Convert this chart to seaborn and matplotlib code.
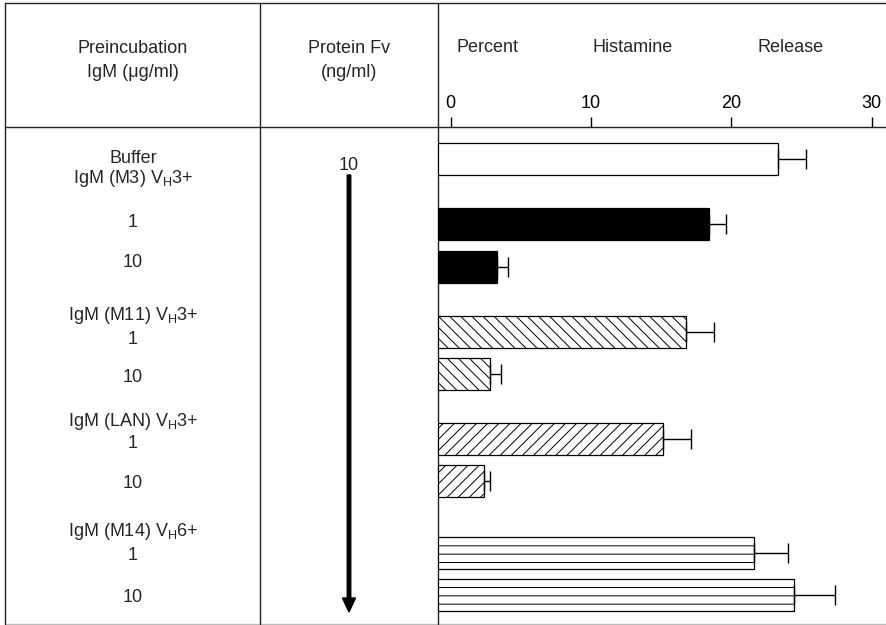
import numpy as np
import pandas as pd
import matplotlib
matplotlib.use("Agg")
import matplotlib.pyplot as plt
import seaborn as sns

# ---- data -------------------------------------------------------------
conditions = ["Buffer", "M3 1", "M3 10", "M11 1", "M11 10",
              "LAN 1", "LAN 10", "M14 1", "M14 10"]
release = [23.3, 18.4, 3.3, 16.75, 2.8, 15.1, 2.4, 21.6, 24.5]      # % histamine release
release_err = [2.0, 1.2, 0.8, 2.05, 0.75, 2.05, 0.4, 2.45, 2.9]

buffer_label = "Buffer"
igm_headers = [r"IgM (M3) V$_\mathregular{H}$3+",
               r"IgM (M11) V$_\mathregular{H}$3+",
               r"IgM (LAN) V$_\mathregular{H}$3+",
               r"IgM (M14) V$_\mathregular{H}$6+"]
igm_doses = ["1", "10"]
fv_dose = "10"
col_titles = ["Preincubation\nIgM (μg/ml)", "Protein Fv\n(ng/ml)"]
axis_words = ["Percent", "Histamine", "Release"]
axis_ticks = [0, 10, 20, 30]

# ---- layout (figure pixels, origin top-left) --------------------------
W, H = 887, 625
row_pos = [0, 1.534, 2.539, 4.076, 5.076, 6.62, 7.61, 9.31, 10.30]
bar_face = ["white", "black", "black", "white", "white",
            "white", "white", "white", "white"]
bar_hatch = ["", "", "", "\\" * 3, "\\" * 3, "/" * 3, "/" * 3, "--", "--"]

sns.set_style("white")
plt.rcParams["font.family"] = ["Liberation Sans", "DejaVu Sans"]
plt.rcParams["mathtext.fontset"] = "custom"
plt.rcParams["mathtext.rm"] = "Liberation Sans"
plt.rcParams["hatch.linewidth"] = 0.7
FS = 13

fig = plt.figure(figsize=(W / 100, H / 100), dpi=100)

# table frame and text in pixel coordinates
bg = fig.add_axes([0, 0, 1, 1])
bg.set_xlim(0, W)
bg.set_ylim(H, 0)
bg.axis("off")

lc = "#222222"
bg.plot([5.5, W], [3.3, 3.3], color=lc, lw=1.0)
bg.plot([5.5, W], [127.3, 127.3], color=lc, lw=1.0)
bg.plot([5.5, W], [623.5, 623.5], color="#bbbbbb", lw=1.0)
for xv in (5.5, 260, 438.3):
    bg.plot([xv, xv], [3.3, 623.5], color=lc, lw=1.0)

col1_x, col2_x = 133, 349
for title, xc in zip(col_titles, (col1_x, col2_x)):
    top, bottom = title.split("\n")
    bg.text(xc, 53.3, top, ha="center", va="baseline", fontsize=FS)
    bg.text(xc, 76.7, bottom, ha="center", va="baseline", fontsize=FS)

for word, xc in zip(axis_words, [488, 633, 791]):
    bg.text(xc, 51.5, word, ha="center", va="baseline", fontsize=FS)

bg.text(col1_x, 163.3, buffer_label, ha="center", va="baseline", fontsize=FS)
header_base = [182.7, 319.6, 426.3, 536.3]
dose_base = [(226.7, 266.7), (344.0, 381.7), (448.0, 488.0), (560.0, 601.7)]
for hdr, hb, (d1, d2) in zip(igm_headers, header_base, dose_base):
    bg.text(col1_x, hb, hdr, ha="center", va="baseline", fontsize=FS)
    bg.text(col1_x, d1, igm_doses[0], ha="center", va="baseline", fontsize=FS)
    bg.text(col1_x, d2, igm_doses[1], ha="center", va="baseline", fontsize=FS)

bg.text(col2_x, 170, fv_dose, ha="center", va="baseline", fontsize=FS)
bg.arrow(col2_x, 175, 0, 612 - 175, width=3.5, head_width=13, head_length=14,
         length_includes_head=True, color="black")

# bar panel
px0, px_per = 450.7, 14.03          # pixel of 0 %, pixels per 1 %
row_px0, row_unit = 159.3, 42.3
x_lo, x_hi = (438.3 - px0) / px_per, (W - px0) / px_per
y_top, y_bot = (127.3 - row_px0) / row_unit, (623.5 - row_px0) / row_unit

ax = fig.add_axes([438.3 / W, 1 - 623.5 / H, (W - 438.3) / W, (623.5 - 127.3) / H])
df = pd.DataFrame({"condition": conditions, "release": release, "row": row_pos})
sns.barplot(data=df, x="release", y="row", orient="y", native_scale=True,
            width=0.77, color="white", edgecolor="black", linewidth=0.9,
            errorbar=None, ax=ax)

for p in ax.patches:
    yc = p.get_y() + p.get_height() / 2
    i = int(np.argmin(np.abs(np.array(row_pos) - yc)))
    right = p.get_x() + p.get_width()
    p.set_x(x_lo)
    p.set_width(right - x_lo)
    p.set_facecolor(bar_face[i])
    p.set_hatch(bar_hatch[i])
    p.set_edgecolor("black")

ax.errorbar(release, row_pos, xerr=[np.zeros(len(release)), release_err],
            fmt="none", ecolor="black", elinewidth=1.0, capsize=7.2, capthick=1.0,
            zorder=5)

ax.set_xlim(x_lo, x_hi)
ax.set_ylim(y_bot, y_top)
for s in ax.spines.values():
    s.set_visible(False)
ax.xaxis.tick_top()
ax.set_xticks(axis_ticks)
ax.set_xticklabels([str(t) for t in axis_ticks])
ax.tick_params(axis="x", direction="out", length=7.2, width=1.0, pad=4,
               labelsize=FS, colors="black", top=True, bottom=False)
ax.set_yticks([])
ax.set_xlabel("")
ax.set_ylabel("")
ax.patch.set_alpha(0)

fig.savefig("out.png", dpi=100)
